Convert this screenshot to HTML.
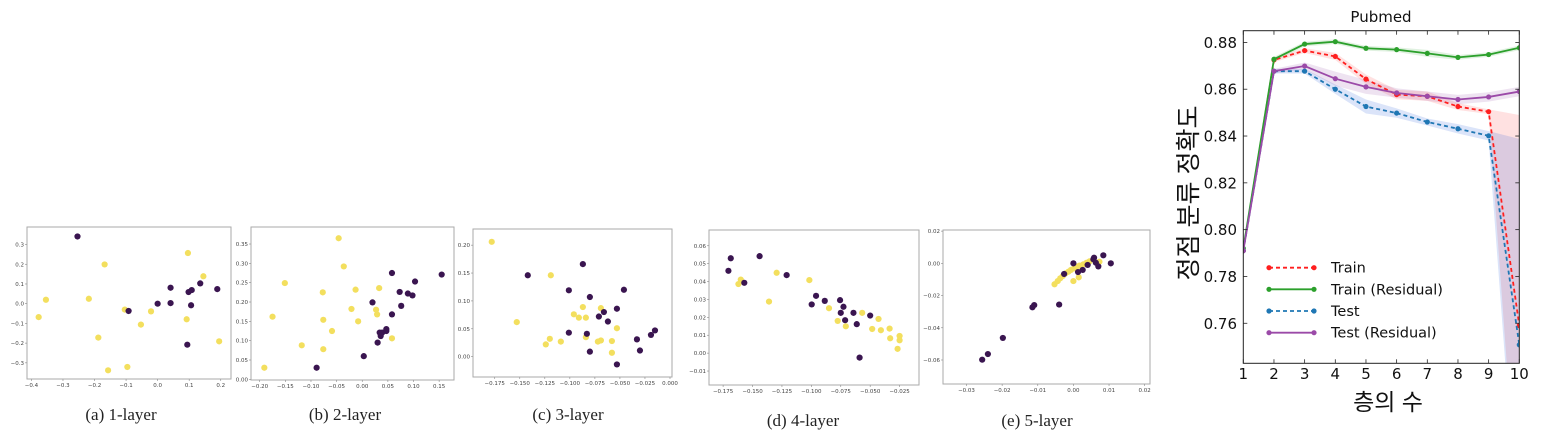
<!DOCTYPE html>
<html><head><meta charset="utf-8"><style>
html,body{margin:0;padding:0;background:#fff;width:1548px;height:436px;overflow:hidden;}
svg{display:block;}
</style></head><body>
<svg id="fig" width="1548" height="436" viewBox="0 0 1548 436" xmlns="http://www.w3.org/2000/svg"></svg>
<script>
// ---------- scatter data ----------
const aDarkX=[-0.254,-0.092,0.0,0.041,0.041,0.098,0.108,0.106,0.135,0.189,0.094];
const aDarkY=[0.341,-0.037,0.0,0.081,0.003,0.059,0.069,-0.008,0.103,0.074,-0.208];
const aYelX=[-0.377,-0.354,-0.218,-0.168,-0.188,-0.157,-0.104,-0.096,-0.053,-0.021,0.096,0.092,0.145,0.195];
const aYelY=[-0.068,0.020,0.025,0.199,-0.172,-0.338,-0.030,-0.321,-0.106,-0.039,0.257,-0.079,0.139,-0.191];
const bDarkX=[-0.089,0.003,0.020,0.030,0.034,0.036,0.039,0.047,0.047,0.058,0.058,0.073,0.076,0.089,0.098,0.103,0.155];
const bDarkY=[0.030,0.060,0.199,0.095,0.121,0.112,0.121,0.125,0.130,0.168,0.275,0.226,0.190,0.222,0.217,0.253,0.271];
const bYelX=[-0.191,-0.175,-0.151,-0.118,-0.077,-0.076,-0.076,-0.059,-0.046,-0.036,-0.021,-0.013,-0.008,0.027,0.029,0.033,0.058];
const bYelY=[0.030,0.162,0.249,0.088,0.225,0.154,0.078,0.125,0.365,0.292,0.182,0.232,0.150,0.180,0.168,0.236,0.106];
const cDarkX=[-0.142,-0.101,-0.087,-0.080,-0.101,-0.083,-0.080,-0.071,-0.066,-0.062,-0.053,-0.046,-0.053,-0.033,-0.030,-0.019,-0.015];
const cDarkY=[0.146,0.119,0.166,0.107,0.043,0.041,0.009,0.072,0.080,0.063,0.086,0.120,-0.014,0.031,0.011,0.039,0.047];
const cYelX=[-0.178,-0.153,-0.119,-0.124,-0.120,-0.109,-0.096,-0.091,-0.087,-0.084,-0.084,-0.072,-0.069,-0.069,-0.058,-0.058,-0.053];
const cYelY=[0.206,0.062,0.146,0.022,0.032,0.027,0.076,0.070,0.089,0.070,0.035,0.027,0.029,0.087,0.028,0.007,0.051];
const dDarkX=[-0.1705,-0.1685,-0.157,-0.144,-0.121,-0.0997,-0.096,-0.0886,-0.0756,-0.075,-0.0727,-0.0713,-0.0642,-0.0614,-0.050,-0.059];
const dDarkY=[0.046,0.053,0.0393,0.0542,0.0436,0.0272,0.032,0.0292,0.0296,0.0225,0.0259,0.0184,0.0225,0.0162,0.021,-0.0025];
const dYelX=[-0.162,-0.160,-0.136,-0.1295,-0.1017,-0.085,-0.0776,-0.0707,-0.0568,-0.0483,-0.0429,-0.0409,-0.0335,-0.033,-0.025,-0.025,-0.0267];
const dYelY=[0.0386,0.0411,0.0288,0.0449,0.0408,0.0251,0.018,0.015,0.0225,0.0135,0.0191,0.0128,0.0137,0.0083,0.0096,0.0072,0.0024];
const eDarkX=[-0.0256,-0.024,-0.0198,-0.0115,-0.011,-0.004,0.0,0.0013,0.0026,-0.0026,0.004,0.0056,0.0058,0.0063,0.007,0.0084,0.0105];
const eDarkY=[-0.0598,-0.0563,-0.0463,-0.0273,-0.0259,-0.0256,0.0,-0.0054,-0.0041,-0.0066,-0.001,0.0025,0.0035,0.0004,-0.0019,0.005,0.0];
const eYelX=[-0.0053,-0.0044,-0.0037,-0.003,-0.0022,-0.0014,-0.0007,0.0002,0.0009,0.0017,0.0028,0.0037,0.0045,0.0073,0.0,0.0015];
const eYelY=[-0.013,-0.011,-0.0093,-0.0079,-0.0062,-0.0052,-0.0041,-0.0031,-0.0021,-0.0014,-0.0006,0.0004,0.0012,0.001,-0.011,-0.0087];
const aXTicks=[-0.4,-0.3,-0.2,-0.1,0.0,0.1,0.2], aYTicks=[-0.3,-0.2,-0.1,0.0,0.1,0.2,0.3];
const bXTicks=[-0.20,-0.15,-0.10,-0.05,0.00,0.05,0.10,0.15], bYTicks=[0.00,0.05,0.10,0.15,0.20,0.25,0.30,0.35];
const cXTicks=[-0.175,-0.150,-0.125,-0.100,-0.075,-0.050,-0.025,0.000], cYTicks=[0.00,0.05,0.10,0.15,0.20];
const dXTicks=[-0.175,-0.150,-0.125,-0.100,-0.075,-0.050,-0.025], dYTicks=[-0.01,0.00,0.01,0.02,0.03,0.04,0.05,0.06];
const eXTicks=[-0.03,-0.02,-0.01,0.00,0.01,0.02], eYTicks=[-0.06,-0.04,-0.02,0.00,0.02];

// ---------- line chart data ----------
const layers=[1,2,3,4,5,6,7,8,9,10];
const trainVals=[0.791,0.8725,0.8765,0.874,0.8643,0.8577,0.857,0.8526,0.8504,0.759];
const trainResVals=[0.792,0.8728,0.8793,0.8803,0.8775,0.8769,0.8753,0.8736,0.8748,0.8777];
const testVals=[0.791,0.8677,0.8677,0.860,0.8526,0.8498,0.846,0.8431,0.8401,0.7508];
const testResVals=[0.791,0.8677,0.8699,0.8645,0.861,0.8584,0.857,0.8556,0.8567,0.859];
const trainStd=[0.001,0.001,0.001,0.0015,0.002,0.002,0.002,0.0015,0.001,0.09];
const trainResStd=[0.001,0.001,0.001,0.001,0.001,0.001,0.0015,0.001,0.001,0.001];
const testStd=[0.001,0.001,0.001,0.002,0.003,0.002,0.0015,0.002,0.002,0.088];
const testResStd=[0.001,0.001,0.0015,0.003,0.003,0.002,0.002,0.002,0.002,0.002];
const lineYTicks=[0.76,0.78,0.80,0.82,0.84,0.86,0.88];
const lineXTicks=[1,2,3,4,5,6,7,8,9,10];

const NS="http://www.w3.org/2000/svg";
const svg=document.getElementById('fig');
function mk(tag,attrs,parent){const e=document.createElementNS(NS,tag);for(const k in attrs)e.setAttribute(k,attrs[k]);(parent||svg).appendChild(e);return e;}
function fmt(v,d){const s=Math.abs(v).toFixed(d);return (v<-1e-9?'\u2212':'')+s;}

const DARK='#3a1550', YEL='#f3df5e';
const panels=[
 {key:'a',box:[27,227,231,379],xd:[-0.414,0.2325],yd:[-0.382,0.389],dx:aDarkX,dy:aDarkY,yx:aYelX,yy:aYelY,xt:aXTicks,yt:aYTicks,xf:1,yf:1,title:'(a) 1-layer',tx:121,ty:420},
 {key:'b',box:[251,227,454,380],xd:[-0.217,0.179],yd:[-0.0017,0.394],dx:bDarkX,dy:bDarkY,yx:bYelX,yy:bYelY,xt:bXTicks,yt:bYTicks,xf:2,yf:2,title:'(b) 2-layer',tx:345,ty:420},
 {key:'c',box:[473,229,672,377],xd:[-0.1967,0.002],yd:[-0.0365,0.229],dx:cDarkX,dy:cDarkY,yx:cYelX,yy:cYelY,xt:cXTicks,yt:cYTicks,xf:3,yf:2,title:'(c) 3-layer',tx:568,ty:420},
 {key:'d',box:[709,230,919,385],xd:[-0.187,-0.0085],yd:[-0.0178,0.0688],dx:dDarkX,dy:dDarkY,yx:dYelX,yy:dYelY,xt:dXTicks,yt:dYTicks,xf:3,yf:2,title:'(d) 4-layer',tx:803,ty:426},
 {key:'e',box:[943,230,1150,384],xd:[-0.0366,0.0215],yd:[-0.0749,0.0207],dx:eDarkX,dy:eDarkY,yx:eYelX,yy:eYelY,xt:eXTicks,yt:eYTicks,xf:2,yf:2,title:'(e) 5-layer',tx:1037,ty:426}
];
panels.forEach(p=>{
  const [x0,y0,x1,y1]=p.box;
  const sx=v=>x0+(v-p.xd[0])/(p.xd[1]-p.xd[0])*(x1-x0);
  const sy=v=>y1-(v-p.yd[0])/(p.yd[1]-p.yd[0])*(y1-y0);
  const g=mk('g',{});
  
  
  const fr=mk('rect',{x:x0,y:y0,width:x1-x0,height:y1-y0,fill:'#fff',stroke:'#aaa','stroke-width':1},g);
  
  
  p.xt.forEach(v=>{
    const X=sx(v);
    mk('line',{x1:X,y1:y1,x2:X,y2:y1+2,stroke:'#888','stroke-width':0.6},g);
    const t=mk('text',{x:X,y:y1+8,'font-size':5.5,'text-anchor':'middle',fill:'#444','font-family':'DejaVu Sans, sans-serif'},g);
    t.textContent=fmt(v,p.xf);
    
    
  });
  p.yt.forEach(v=>{
    const Y=sy(v);
    mk('line',{x1:x0-2,y1:Y,x2:x0,y2:Y,stroke:'#888','stroke-width':0.6},g);
    const t=mk('text',{x:x0-3,y:Y+2,'font-size':5.5,'text-anchor':'end',fill:'#444','font-family':'DejaVu Sans, sans-serif'},g);
    t.textContent=fmt(v,p.yf);
    
    
  });
  p.yx.forEach((v,i)=>{
    const c=mk('circle',{cx:sx(v),cy:sy(p.yy[i]),r:3.1,fill:YEL},g);
    
    
  });
  p.dx.forEach((v,i)=>{
    const c=mk('circle',{cx:sx(v),cy:sy(p.dy[i]),r:3.1,fill:DARK},g);
    
    
  });
  const tt=mk('text',{x:p.tx,y:p.ty,'font-size':17,'text-anchor':'middle',fill:'#222','font-family':'Liberation Serif, serif'},g);
  tt.textContent=p.title;
  
  
});

// ---------- line chart ----------
(function(){
  const X0=1243.3,X1=1519.3,Y0=30.7,Y1=363.3;
  const xd=[1,10], yd=[0.7429,0.885];
  const sx=v=>X0+(v-xd[0])/(xd[1]-xd[0])*(X1-X0);
  const sy=v=>Y1-(v-yd[0])/(yd[1]-yd[0])*(Y1-Y0);
  const g=mk('g',{});
  
  
  const defs=mk('defs',{},g);
  const cp=mk('clipPath',{id:'clipL'},defs);
  mk('rect',{x:X0,y:Y0,width:X1-X0,height:Y1-Y0},cp);
  const series=[
    {name:'train',vals:trainVals,std:trainStd,color:'#ff1f1f',band:'rgba(255,40,40,0.14)',dash:'4,3'},
    {name:'train-residual',vals:trainResVals,std:trainResStd,color:'#2ca02c',band:'rgba(44,160,44,0.15)',dash:''},
    {name:'test',vals:testVals,std:testStd,color:'#1f77b4',band:'rgba(31,90,220,0.16)',dash:'4,3'},
    {name:'test-residual',vals:testResVals,std:testResStd,color:'#9b4aa8',band:'rgba(148,80,170,0.16)',dash:''}
  ];
  const inner=mk('g',{'clip-path':'url(#clipL)'},g);
  series.forEach(s=>{
    let up='',lo='';
    layers.forEach((l,i)=>{up+=(i?'L':'M')+sx(l)+','+sy(s.vals[i]+s.std[i]);});
    for(let i=layers.length-1;i>=0;i--){lo+='L'+sx(layers[i])+','+sy(s.vals[i]-s.std[i]);}
    const b=mk('path',{d:up+lo+'Z',fill:s.band,stroke:'none'},inner);
    
    
  });
  series.forEach(s=>{
    const pts=layers.map((l,i)=>sx(l)+','+sy(s.vals[i])).join(' ');
    const pl=mk('polyline',{points:pts,fill:'none',stroke:s.color,'stroke-width':1.8,'stroke-dasharray':s.dash},inner);
    
    
    layers.forEach((l,i)=>{
      const c=mk('circle',{cx:sx(l),cy:sy(s.vals[i]),r:2.6,fill:s.color},inner);
      
      
    });
  });
  const fr=mk('rect',{x:X0,y:Y0,width:X1-X0,height:Y1-Y0,fill:'none',stroke:'#222','stroke-width':1},g);
  
  
  lineXTicks.forEach(v=>{
    const X=sx(v);
    mk('line',{x1:X,y1:Y1,x2:X,y2:Y1-4,stroke:'#222','stroke-width':0.8},g);
    mk('line',{x1:X,y1:Y0,x2:X,y2:Y0+4,stroke:'#222','stroke-width':0.8},g);
    const t=mk('text',{x:X,y:379,'font-size':15,'text-anchor':'middle',fill:'#111','font-family':'DejaVu Sans, sans-serif'},g);
    t.textContent=String(v);
    
    
  });
  lineYTicks.forEach(v=>{
    const Y=sy(v);
    mk('line',{x1:X0,y1:Y,x2:X0+4,y2:Y,stroke:'#222','stroke-width':0.8},g);
    mk('line',{x1:X1,y1:Y,x2:X1-4,y2:Y,stroke:'#222','stroke-width':0.8},g);
    const t=mk('text',{x:1237,y:Y+5.5,'font-size':15,'text-anchor':'end',fill:'#111','font-family':'DejaVu Sans, sans-serif'},g);
    t.textContent=v.toFixed(2);
    
    
  });
  const title=mk('text',{x:1381,y:22,'font-size':15,'text-anchor':'middle',fill:'#111','font-family':'DejaVu Sans, sans-serif'},g);
  title.textContent='Pubmed';
  
  
  const xl=mk('text',{x:1388,y:410,'font-size':23,'text-anchor':'middle',fill:'#111','font-family':'"Liberation Sans","Noto Sans CJK KR",sans-serif'},g);
  xl.textContent='층의 수';
  
  
  const yl=mk('text',{x:0,y:0,'font-size':25,'text-anchor':'middle',fill:'#111','font-family':'"Liberation Sans","Noto Sans CJK KR",sans-serif',transform:'translate(1197,193) rotate(-90)'},g);
  yl.textContent='정점 분류 정확도';
  
  
  const legendLabels=['Train','Train (Residual)','Test','Test (Residual)'];
  const legendY=[267.7,289.3,311,332.7];
  series.forEach((s,i)=>{
    const lg=mk('g',{},g);
    
    
    const y=legendY[i];
    mk('line',{x1:1269,y1:y,x2:1314,y2:y,stroke:s.color,'stroke-width':1.8,'stroke-dasharray':s.dash},lg);
    mk('circle',{cx:1269,cy:y,r:2.6,fill:s.color},lg);
    mk('circle',{cx:1314,cy:y,r:2.6,fill:s.color},lg);
    const t=mk('text',{x:1331,y:y+5,'font-size':14.5,fill:'#111','font-family':'DejaVu Sans, sans-serif'},lg);
    t.textContent=legendLabels[i];
  });
})();
</script>
</body></html>
